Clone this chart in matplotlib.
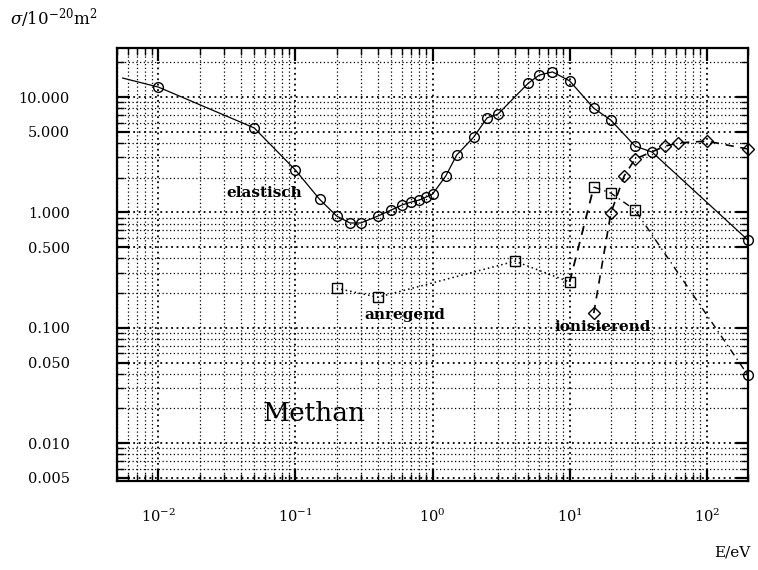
import numpy as np
import matplotlib
matplotlib.use("Agg")
import matplotlib.pyplot as plt
from matplotlib.ticker import LogLocator, FixedLocator, NullFormatter

plt.rcParams['font.family'] = ['DejaVu Serif']
plt.rcParams['mathtext.fontset'] = 'dejavuserif'

# elastic cross section (first point is only the start of the line)
E_el = [0.0055, 0.01, 0.05, 0.1, 0.15, 0.2, 0.25, 0.3, 0.4, 0.5, 0.6, 0.7, 0.8, 0.9,
        1.0, 1.25, 1.5, 2.0, 2.5, 3.0, 5.0, 6.0, 7.5, 10.0, 15.0, 20.0, 30.0, 40.0, 200.0]
s_el = [14.6, 12.2, 5.4, 2.33, 1.30, 0.93, 0.81, 0.81, 0.93, 1.05, 1.16, 1.23, 1.28, 1.36,
        1.44, 2.07, 3.14, 4.5, 6.6, 7.1, 13.2, 15.5, 16.5, 13.8, 8.0, 6.3, 3.76, 3.33, 0.575]

# excitation
E_an = [0.2, 0.4, 4.0, 10.0]
s_an = [0.220, 0.184, 0.378, 0.249]
# excitation continued above 10 eV
E_an2 = [10.0, 15.0]
s_an2 = [0.249, 1.66]
E_an3 = [15.0, 20.0, 30.0, 200.0]
s_an3 = [1.66, 1.47, 1.05, 0.0388]

# ionisation
E_io = [15.0, 20.0, 25.0, 30.0, 50.0, 62.0, 100.0, 200.0]
s_io = [0.134, 0.99, 2.07, 2.90, 3.76, 4.0, 4.15, 3.54]

xticks = [1e-2, 1e-1, 1e0, 1e1, 1e2]
xticklabels = ['$10^{-2}$', '$10^{-1}$', '$10^{0}$', '$10^{1}$', '$10^{2}$']
yticks = [10, 5, 1, 0.5, 0.1, 0.05, 0.01, 0.005]
yticklabels = ['10.000', '5.000', '1.000', '0.500', '0.100', '0.050', '0.010', '0.005']

fig = plt.figure(figsize=(7.58, 5.70), dpi=100)
ax = fig.add_axes([0.1544, 0.1561, 0.8324, 0.7597])
ax.set_xscale('log')
ax.set_yscale('log')
ax.set_xlim(0.005, 200)
ax.set_ylim(0.0047, 26.6)

dots = (0, (1, 2))
ax.xaxis.set_minor_locator(LogLocator(base=10, subs=np.arange(2, 10), numticks=20))
ax.xaxis.set_minor_formatter(NullFormatter())
ax.set_xticks(xticks)
ax.set_xticklabels(xticklabels, fontsize=10.5)
ax.yaxis.set_major_locator(FixedLocator(yticks))
ax.set_yticklabels(yticklabels, fontsize=10.5)
ax.yaxis.set_minor_locator(LogLocator(base=10, subs=np.arange(2, 10), numticks=20))
ax.yaxis.set_minor_formatter(NullFormatter())

ax.grid(True, which='major', color='black', linestyle=dots, linewidth=1.3)
ax.grid(True, which='minor', color='black', linestyle=dots, linewidth=0.9)
ax.set_axisbelow(True)

ax.tick_params(which='both', direction='in', top=True, right=True)
ax.tick_params(which='major', length=9, width=1.6)
ax.tick_params(which='minor', length=5, width=1.0)
ax.tick_params(axis='x', which='major', pad=19)
ax.tick_params(axis='y', which='major', pad=34)
for sp in ax.spines.values():
    sp.set_linewidth(1.6)

mk = dict(markersize=7, markerfacecolor='none', markeredgecolor='black',
          markeredgewidth=1.0, clip_on=False)

ax.plot(E_el, s_el, '-', color='black', linewidth=0.9, marker='o',
        markevery=list(range(1, len(E_el))), **mk)
ax.plot(E_an, s_an, linestyle=dots, color='black', linewidth=1.1, marker='s', **mk)
ax.plot(E_an2, s_an2, linestyle=(0, (5, 4)), color='black', linewidth=1.3)
ax.plot(E_an3, s_an3, linestyle=(0, (5, 3, 1, 3)), color='black', linewidth=1.0,
        marker='s', markevery=[1, 2], **mk)
ax.plot(E_an3[-1:], s_an3[-1:], linestyle='none', marker='o', **mk)
ax.plot(E_an2[-1:], s_an2[-1:], linestyle='none', marker='s', **mk)
ax.plot(E_io, s_io, linestyle=(0, (5, 4)), color='black', linewidth=1.2, marker='D',
        markersize=6, markerfacecolor='none', markeredgecolor='black',
        markeredgewidth=1.0, clip_on=False)

lab = dict(fontsize=11, fontweight='bold', ha='center', va='center', color='black')
ax.text(0.059, 1.47, 'elastisch', **lab)
ax.text(0.63, 0.128, 'anregend', **lab)
ax.text(17.5, 0.101, 'ionisierend', **lab)
ax.text(0.137, 0.018, 'Methan', fontsize=19, ha='center', va='center')

fig.text(0.013, 0.968, r'$\sigma/10^{-20}\mathrm{m}^2$', fontsize=12, ha='left', va='center')
fig.text(0.99, 0.03, 'E/eV', fontsize=11, ha='right', va='center')

fig.savefig('out.png', dpi=100)
